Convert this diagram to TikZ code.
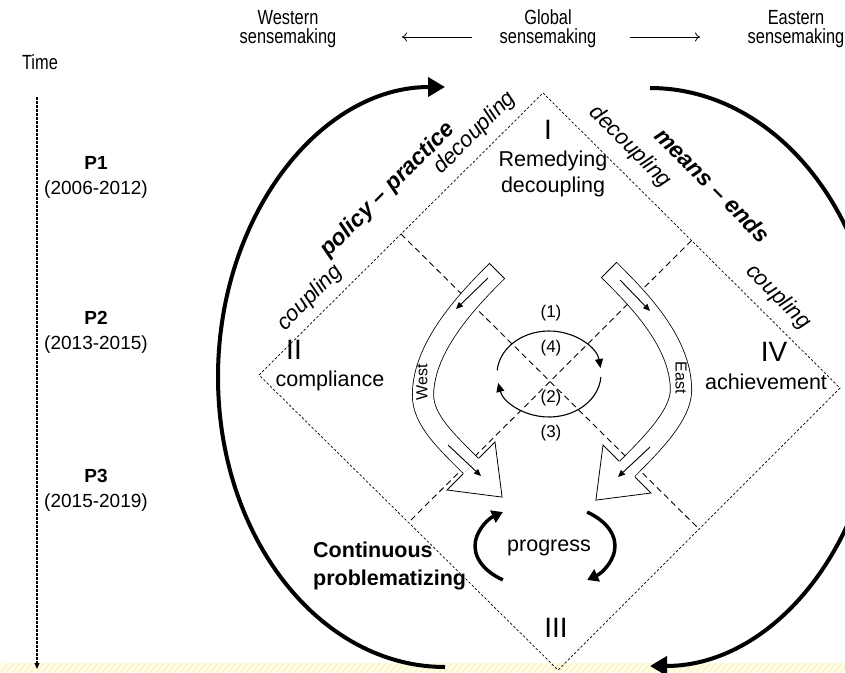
\documentclass[tikz,border=0pt]{standalone}
\usepackage{fontspec}
\setmainfont{Liberation Sans}
\newfontfamily\narrowfont[FakeStretch=0.8]{Liberation Sans}
\usetikzlibrary{arrows.meta}
\definecolor{stripbg}{RGB}{255,254,236}
\definecolor{stripline}{RGB}{250,243,192}

\begin{document}
\begin{tikzpicture}[x=1pt, y=-1pt,
  txt/.style={inner sep=0pt, align=center, font=\fontsize{21.5}{26}\selectfont},
  headtxt/.style={inner sep=0pt, align=center, font=\narrowfont\fontsize{20.5}{19}\selectfont},
  period/.style={inner sep=0pt, align=center, font=\fontsize{19}{25}\selectfont},
  roman/.style={inner sep=0pt, font=\fontsize{28}{28}\selectfont},
  edgelbl/.style={inner sep=0pt, font=\itshape\fontsize{22}{22}\selectfont},
  edgebold/.style={inner sep=0pt, font=\bfseries\itshape\fontsize{23}{23}\selectfont},
  numlbl/.style={inner sep=0pt, font=\fontsize{17}{17}\selectfont},
  dirlbl/.style={inner sep=0pt, font=\fontsize{16}{16}\selectfont},
  outline/.style={dash pattern=on 2.5pt off 2pt, line width=0.7pt},
  divider/.style={dash pattern=on 6pt off 4pt, line width=0.9pt},
  band/.style={line width=0.8pt, double=white, double distance=20.5pt},
  headfill/.style={fill=white},
  headline/.style={line width=0.8pt, line join=miter},
  smallarrow/.style={line width=0.9pt, -{Triangle[length=7pt,width=6pt]}},
  looparrow/.style={line width=1.1pt, -{Triangle[length=9pt,width=8pt]}},
  progarrow/.style={line width=3.5pt, -{Triangle[length=11pt,width=13pt]}},
  bigarc/.style={line width=4pt, -{Triangle[length=17pt,width=19pt]}},
  headarrow/.style={line width=0.8pt, -{To[length=5pt,width=9pt]}},
  timearrow/.style={line width=1.2pt, dash pattern=on 3pt off 1pt, -{Triangle[length=6pt,width=5pt]}}
]
\useasboundingbox (0,0) rectangle (845,672);
\clip (0,0) rectangle (845,672);

% pale hatched strip along the bottom
\fill[stripbg] (0,663) rectangle (845,672);
\begin{scope}
  \clip (0,663) rectangle (845,672);
  \foreach \i in {0,6,...,852} \draw[stripline, line width=1.4pt] (\i,673) -- (\i+9,662);
\end{scope}

% header
\node[headtxt] (western) at (288,29) {Western\\sensemaking};
\node[headtxt] (global) at (548,29) {Global\\sensemaking};
\node[headtxt] (eastern) at (796,29) {Eastern\\sensemaking};
\coordinate (hwA) at (472,37);
\coordinate (hwB) at (402,37);
\coordinate (heA) at (630,37);
\coordinate (heB) at (700,37);
\draw[headarrow] (hwA) -- (hwB);
\draw[headarrow] (heA) -- (heB);

% time axis
\node[headtxt] (time) at (40,62) {Time};
\coordinate (tTop) at (37,97);
\coordinate (tBot) at (37,669);
\draw[timearrow] (tTop) -- (tBot);
\node[period] (p1) at (96,177) {\textbf{P1}\\(2006-2012)};
\node[period] (p2) at (96,332) {\textbf{P2}\\(2013-2015)};
\node[period] (p3) at (96,490) {\textbf{P3}\\(2015-2019)};

% outer diamond and its quadrant dividers
\coordinate (dT) at (543,93);
\coordinate (dL) at (259,375);
\coordinate (dB) at (558,670);
\coordinate (dR) at (840,388);
\draw[outline] (dT) -- (dR) -- (dB) -- (dL) -- cycle;
\coordinate (mUL) at (401,234);
\coordinate (mLR) at (699,529);
\coordinate (mUR) at (691.5,240.5);
\coordinate (mLL) at (408.5,522.5);
\draw[divider] (mUL) -- (mLR);
\draw[divider] (mUR) -- (mLL);

% big outer arcs
\coordinate (arcLs) at (445,667);
\draw[bigarc] (arcLs) arc[start angle=90, end angle=270, x radius=227, y radius=290];
\coordinate (arcRs) at (650,88);
\draw[bigarc] (arcRs) arc[start angle=-90, end angle=90, x radius=229, y radius=289];

% West band arrow
\draw[band] (497,271) .. controls (472,296) and (423,345) .. (423,395)
            .. controls (423,420) and (446,441) .. (471,466);
\draw[headline] (489.2,263.2) -- (504.8,278.8);
\fill[headfill] (495,442) -- (502.1,497.1) -- (447,490) -- cycle;
\draw[headline] (478.8,458.2) -- (495,442) -- (502.1,497.1) -- (447,490) -- (463.2,473.8);
\draw[smallarrow] (488,278) -- (456,309);
\draw[smallarrow] (448,445) -- (481,476);
\node[dirlbl, rotate=90] (westlbl) at (422,382) {West};

% East band arrow
\draw[band] (609,270) .. controls (634,295) and (681,340) .. (681,390)
            .. controls (681,415) and (652,444) .. (627,469);
\draw[headline] (616.8,262.2) -- (601.2,277.8);
\fill[headfill] (603,445) -- (595.9,500.1) -- (651,493) -- cycle;
\draw[headline] (619.2,461.2) -- (603,445) -- (595.9,500.1) -- (651,493) -- (634.8,476.8);
\draw[smallarrow] (620,280) -- (650,311);
\draw[smallarrow] (650,447) -- (618,477);
\node[dirlbl, rotate=-90] (eastlbl) at (681,378) {East};

% central cycle
\draw[looparrow] (549,374) ++(185:52 and 43) arc[start angle=185, end angle=352, x radius=52, y radius=43];
\draw[looparrow] (549,374) ++(4:52 and 43) arc[start angle=4, end angle=168, x radius=52, y radius=43];
\node[numlbl] (n1) at (551,313) {(1)};
\node[numlbl] (n4) at (551,348) {(4)};
\node[numlbl] (n2) at (551,398) {(2)};
\node[numlbl] (n3) at (551,433) {(3)};

% progress cycle
\node[txt] (progress) at (549,548) {progress};
\draw[progarrow] (545,546) ++(127:70 and 42.5) arc[start angle=127, end angle=233, x radius=70, y radius=42.5];
\draw[progarrow] (545,546) ++(-53:70 and 42.5) arc[start angle=-53, end angle=53, x radius=70, y radius=42.5];

% quadrant labels
\node[roman] (qI) at (548,130) {I};
\node[txt] (remedy) at (553,174) {Remedying\\decoupling};
\node[roman] (qII) at (294,350) {II};
\node[txt] (compliance) at (330,381) {compliance};
\node[roman] (qIV) at (774,352) {IV};
\node[txt] (achievement) at (766,382) {achievement};
\node[roman] (qIII) at (556,628) {III};
\node[txt, font=\bfseries\fontsize{21.5}{28}\selectfont, align=left, anchor=west] (contprob) at (313,566) {Continuous\\problematizing};

% edge labels
\node[edgebold, rotate=45] (polprac) at (388,190) {policy -- practice};
\node[edgelbl, rotate=45] (decoupL) at (475,133) {decoupling};
\node[edgelbl, rotate=45] (coupL) at (310,298) {coupling};
\node[edgebold, rotate=-45] (meansends) at (713,185) {means -- ends};
\node[edgelbl, rotate=-45] (decoupR) at (630,147) {decoupling};
\node[edgelbl, rotate=-45] (coupR) at (778,297) {coupling};
\end{tikzpicture}
\end{document}
